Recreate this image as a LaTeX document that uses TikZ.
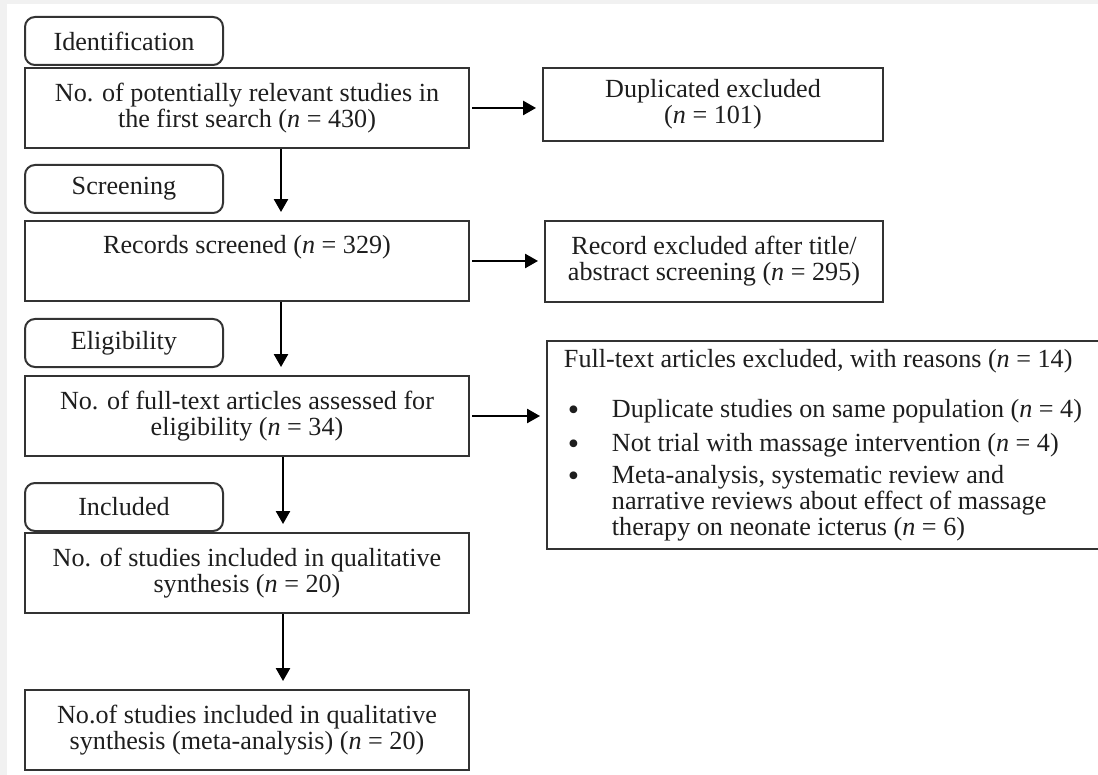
\documentclass[tikz,border=0pt]{standalone}
\usepackage{fontspec}
\setmainfont{Liberation Serif}
\usepackage{xcolor}
\usepackage{tikz}
\usetikzlibrary{arrows.meta, positioning}

\definecolor{pagegray}{HTML}{F1F1F1}
\definecolor{boxgray}{HTML}{333333}
\definecolor{inkblack}{HTML}{1E1E1E}

\newcommand{\bulletpad}{\makebox[12mm][l]{\hspace{1mm}\smash{\raisebox{-0.25ex}{\fontsize{23}{18.5}\selectfont\textbullet}}}}
\newcommand{\hangpad}{\makebox[12mm][l]{}}

\begin{document}
\begin{tikzpicture}[
    every node/.style={color=inkblack, font=\fontsize{18.6}{18.5}\selectfont},
    stagebox/.style={draw=boxgray, rectangle, rounded corners=2.5mm, line width=0.5mm,
                     minimum width=49.5mm, minimum height=12mm, inner sep=1pt},
    mainbox/.style={draw=boxgray, rectangle, line width=0.5mm, minimum width=111mm,
                    minimum height=20mm, align=center, inner sep=2pt},
    sidebox/.style={draw=boxgray, rectangle, line width=0.5mm, align=center, inner sep=2pt},
    listbox/.style={draw=boxgray, rectangle, line width=0.5mm, align=left, inner sep=2pt},
    arrow/.style={-{Triangle[length=3.2mm, width=3.5mm]}, color=black, line width=0.5mm},
    downarrow/.style={arrow, shorten >=2mm},
    sidearrow/.style={arrow, shorten <=0.5mm, shorten >=1.5mm}
]

% --- Page ---
\fill[pagegray] (0,0) rectangle (274.5mm,-193.75mm);
\fill[white] (1.75mm,-1mm) rectangle (274.5mm,-193.75mm);
\useasboundingbox (0,0) rectangle (274.5mm,-193.75mm);

% --- Identification ---
\node[stagebox, anchor=north west] (idlab) at (6mm,-4mm) {Identification};
\node[mainbox, below=0.25mm of idlab.south west, anchor=north west] (search)
    {No. of potentially relevant studies in\\the first search (\textit{n} = 430)};
\node[sidebox, right=18mm of search.north east, anchor=north west,
      minimum width=85mm, minimum height=18.25mm] (dup)
    {Duplicated excluded\\(\textit{n} = 101)};

% --- Screening ---
\node[stagebox, below=3.75mm of search.south west, anchor=north west] (scrlab) {Screening};
\node[mainbox, below=1.5mm of scrlab.south west, anchor=north west] (screen)
    {Records screened (\textit{n} = 329)\\\strut};
\node[sidebox, right=18.5mm of screen.north east, anchor=north west,
      minimum width=84.5mm, minimum height=20.25mm] (rexcl)
    {Record excluded after title/\\abstract screening (\textit{n} = 295)};

% --- Eligibility ---
\node[stagebox, below=4mm of screen.south west, anchor=north west] (elilab) {Eligibility};
\node[mainbox, below=1.75mm of elilab.south west, anchor=north west] (full)
    {No. of full-text articles assessed for\\eligibility (\textit{n} = 34)};
\node[listbox, right=19mm of full.north east, anchor=north west, yshift=8.75mm,
      minimum width=138mm, minimum height=52mm] (fexcl)
    {Full-text articles excluded, with reasons (\textit{n} = 14)\\[6mm]
     \bulletpad Duplicate studies on same population (\textit{n} = 4)\\[2mm]
     \bulletpad Not trial with massage intervention (\textit{n} = 4)\\[1.5mm]
     \bulletpad Meta-analysis, systematic review and\\
     \hangpad narrative reviews about effect of massage\\
     \hangpad therapy on neonate icterus (\textit{n} = 6)};

% --- Included ---
\node[stagebox, below=6.25mm of full.south west, anchor=north west] (inclab) {Included};
\node[mainbox, below=0mm of inclab.south west, anchor=north west] (incl)
    {No. of studies included in qualitative\\synthesis (\textit{n} = 20)};
\node[mainbox, below=18.75mm of incl] (final)
    {No.of studies included in qualitative\\synthesis (meta-analysis) (\textit{n} = 20)};

% --- Arrows down the main column ---
\draw[downarrow] ([xshift=8.5mm]search.south) -- ([xshift=8.5mm]screen.north);
\draw[downarrow] ([xshift=8.5mm]screen.south) -- ([xshift=8.5mm]full.north);
\draw[downarrow] ([xshift=9mm]full.south) -- ([xshift=9mm]incl.north);
\draw[downarrow] ([xshift=9mm]incl.south) -- ([xshift=9mm]final.north);

% --- Arrows to the exclusions ---
\draw[sidearrow] (search.east) -- (search.east -| dup.west);
\draw[sidearrow] (screen.east) -- (screen.east -| rexcl.west);
\draw[sidearrow] (full.east) -- (full.east -| fexcl.west);

\end{tikzpicture}
\end{document}
